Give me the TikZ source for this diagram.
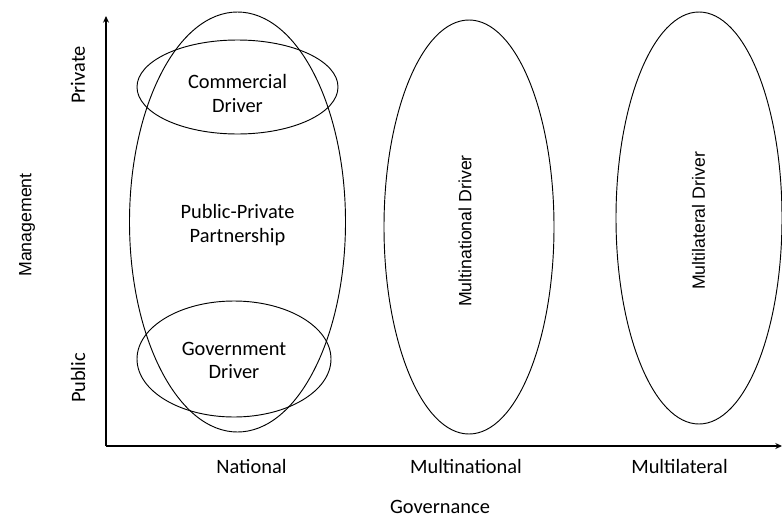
\documentclass[tikz,border=0pt]{standalone}
\usepackage{fontspec}
\setmainfont{Carlito}
\newfontfamily\arialf{Liberation Sans}
\usetikzlibrary{shapes.geometric,arrows.meta}
\begin{document}
\begin{tikzpicture}[x=0.75pt,y=-0.75pt,
  oval/.style={draw,ellipse,inner sep=0pt,line width=0.7pt},
  lbl/.style={font=\fontsize{15.3}{17.5}\selectfont,align=center,inner sep=0pt},
  albl/.style={font=\arialf\fontsize{13.3}{16}\selectfont,inner sep=0pt},
  axis/.style={line width=1.3pt,-{Stealth[length=5pt,width=4.5pt]}}]
\useasboundingbox (0,0) rectangle (782,518);
% axes
\coordinate (O) at (106,446);
\coordinate (ytop) at (106,16);
\coordinate (xend) at (782,446);
\draw[axis] (O) -- (ytop);
\draw[axis] (O) -- (xend);
% ellipses
\node[oval,minimum width=162pt,minimum height=315pt] (nat) at (237.5,222) {};
\node[oval,minimum width=150.75pt,minimum height=70.5pt] (com) at (237.5,87) {};
\node[oval,minimum width=145.5pt,minimum height=87pt] (gov) at (234,359) {};
\node[oval,minimum width=127.5pt,minimum height=310.5pt] (mn) at (469,227) {};
\node[oval,minimum width=124.5pt,minimum height=309pt] (ml) at (699,218) {};
% texts inside
\node[lbl] (tcom) at (237.5,93.5) {Commercial\\Driver};
\node[lbl] (tppp) at (237.5,225) {Public-Private\\Partnership};
\node[lbl] (tgov) at (234,360.5) {Government\\Driver};
\node[albl,rotate=90] (tmn) at (465,231) {Multinational Driver};
\node[albl,rotate=90] (tml) at (698.5,221) {Multilateral Driver};
% axis labels
\node[lbl,rotate=90] (priv) at (78,75) {Private};
\node[lbl,rotate=90] (pub) at (78,378) {Public};
\node[albl,rotate=90] (mgmt) at (27,225) {Management};
\node[lbl] (xnat) at (251.5,466) {National};
\node[lbl] (xmn) at (466,466) {Multinational};
\node[lbl] (xml) at (679.5,466) {Multilateral};
\node[lbl,anchor=base] (xgov) at (440,513) {Governance};
\end{tikzpicture}
\end{document}
